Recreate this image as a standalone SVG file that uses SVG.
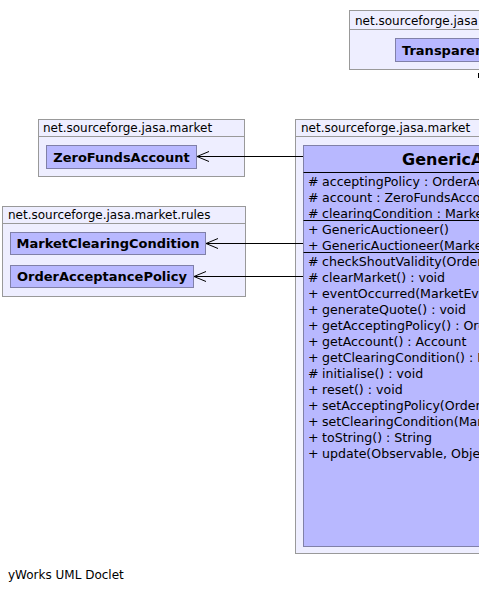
<svg xmlns="http://www.w3.org/2000/svg" width="479" height="592" viewBox="0 0 479 592">
<style>
.pkg{fill:#eeeeff;stroke:#999999;stroke-width:1}
.cls{fill:#b8b8ff;stroke:#8080a8;stroke-width:1}
.t{font-family:"DejaVu Sans",sans-serif;font-size:12px;fill:#000}
.m{font-family:"DejaVu Sans",sans-serif;font-size:12.6px;fill:#000}
.b{font-family:"DejaVu Sans",sans-serif;font-size:13px;font-weight:bold;fill:#000}
.big{font-family:"DejaVu Sans",sans-serif;font-size:16px;font-weight:bold;fill:#000}
.sep{stroke:#000;stroke-width:1}
.edge{stroke:#000;stroke-width:1;fill:none}
</style>
<rect width="479" height="592" fill="#ffffff"/>
<g id="pkg-top">
<rect class="pkg" x="349.5" y="10.5" width="140" height="59"/>
<line x1="349.5" y1="29.5" x2="489" y2="29.5" stroke="#999999"/>
<text class="t" x="355" y="25">net.sourceforge.jasa</text>
<g id="TransparentNode">
<rect class="cls" x="395.5" y="38.5" width="100" height="23"/>
<text class="b" x="402" y="55">TransparentAuctioneer</text>
</g>
</g>
<g id="pkg-market-left">
<rect class="pkg" x="38.5" y="119.5" width="206" height="57"/>
<line x1="38.5" y1="136.5" x2="244.5" y2="136.5" stroke="#999999"/>
<text class="t" x="43" y="132">net.sourceforge.jasa.market</text>
</g>
<g id="ZeroFundsAccount">
<rect class="cls" x="46.5" y="145.5" width="150" height="23"/>
<text class="b" x="121.5" y="161.5" text-anchor="middle">ZeroFundsAccount</text>
</g>
<g id="pkg-rules">
<rect class="pkg" x="2.5" y="206.5" width="243" height="90"/>
<line x1="2.5" y1="223.5" x2="245.5" y2="223.5" stroke="#999999"/>
<text class="t" x="8" y="219">net.sourceforge.jasa.market.rules</text>
</g>
<g id="MarketClearingCondition">
<rect class="cls" x="10.5" y="232.5" width="195" height="22"/>
<text class="b" x="108" y="248" text-anchor="middle">MarketClearingCondition</text>
</g>
<g id="OrderAcceptancePolicy">
<rect class="cls" x="10.5" y="265.5" width="183" height="22"/>
<text class="b" x="102" y="281" text-anchor="middle">OrderAcceptancePolicy</text>
</g>
<g id="pkg-market-right">
<rect class="pkg" x="295.5" y="119.5" width="200" height="434"/>
<line x1="295.5" y1="136.5" x2="495" y2="136.5" stroke="#999999"/>
<text class="t" x="301" y="132">net.sourceforge.jasa.market</text>
</g>
<g id="GenericAuctioneer">
<rect class="cls" x="303.5" y="145.5" width="190" height="401"/>
<text class="big" x="402" y="165">GenericAuctioneer</text>
<line class="sep" x1="303.5" y1="172.5" x2="493" y2="172.5"/>
<g class="m">
<text x="308" y="186">#</text><text x="322" y="186">acceptingPolicy : OrderAcceptancePolicy</text>
<text x="308" y="202">#</text><text x="322" y="202">account : ZeroFundsAccount</text>
<text x="308" y="218">#</text><text x="322" y="218">clearingCondition : MarketClearingCondition</text>
</g>
<line class="sep" x1="303.5" y1="220.5" x2="493" y2="220.5"/>
<g class="m">
<text x="308" y="234">+</text><text x="322" y="234">GenericAuctioneer()</text>
<text x="308" y="250">+</text><text x="322" y="250">GenericAuctioneer(Market)</text>
</g>
<line class="sep" x1="303.5" y1="252.5" x2="493" y2="252.5"/>
<g class="m">
<text x="308" y="266">#</text><text x="322" y="266">checkShoutValidity(Order)</text>
<text x="308" y="282">#</text><text x="322" y="282">clearMarket() : void</text>
<text x="308" y="298">+</text><text x="322" y="298">eventOccurred(MarketEvent)</text>
<text x="308" y="314">+</text><text x="322" y="314">generateQuote() : void</text>
<text x="308" y="330">+</text><text x="322" y="330">getAcceptingPolicy() : OrderAcceptancePolicy</text>
<text x="308" y="346">+</text><text x="322" y="346">getAccount() : Account</text>
<text x="308" y="362">+</text><text x="322" y="362">getClearingCondition() : MarketClearingCondition</text>
<text x="308" y="378">#</text><text x="322" y="378">initialise() : void</text>
<text x="308" y="394">+</text><text x="322" y="394">reset() : void</text>
<text x="308" y="410">+</text><text x="322" y="410">setAcceptingPolicy(OrderAcceptancePolicy)</text>
<text x="308" y="426">+</text><text x="322" y="426">setClearingCondition(MarketClearingCondition)</text>
<text x="308" y="442">+</text><text x="322" y="442">toString() : String</text>
<text x="308" y="458">+</text><text x="322" y="458">update(Observable, Object)</text>
</g>
</g>
<g id="connectors">
<line class="edge" x1="303" y1="156.5" x2="197" y2="156.5"/>
<polyline class="edge" points="209,151.5 197,156.5 209,161.5"/>
<line class="edge" x1="303" y1="243.5" x2="206" y2="243.5"/>
<polyline class="edge" points="218,238.5 206,243.5 218,248.5"/>
<line class="edge" x1="303" y1="276.5" x2="194" y2="276.5"/>
<polyline class="edge" points="206,271.5 194,276.5 206,281.5"/>
<line class="edge" x1="478.5" y1="73" x2="478.5" y2="78"/>
</g>
<text class="t" x="8" y="579">yWorks UML Doclet</text>
</svg>
